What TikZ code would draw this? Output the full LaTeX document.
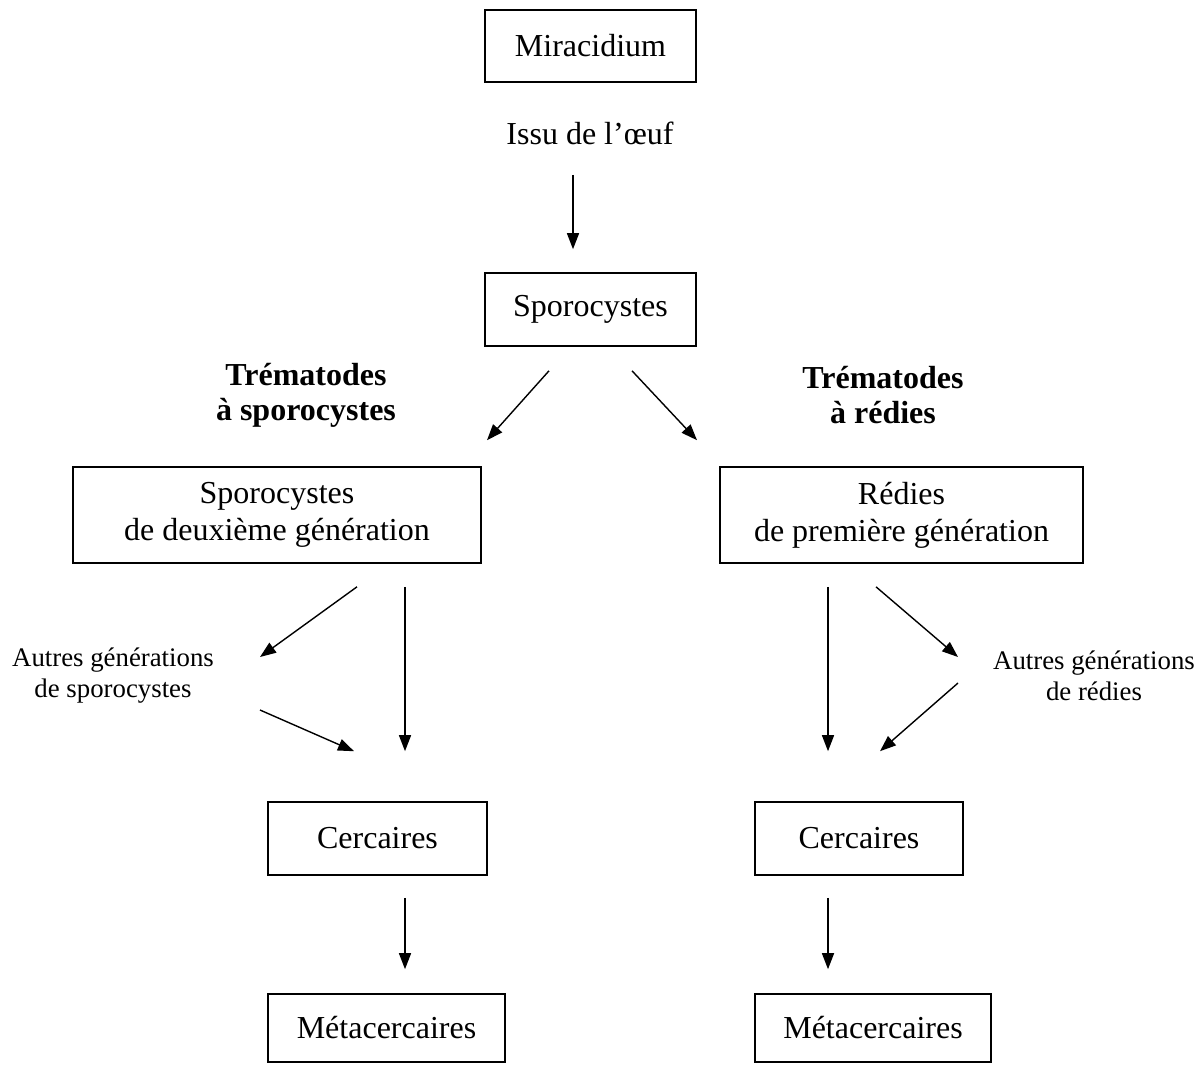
\documentclass[tikz,border=0pt]{standalone}
\usepackage{fontspec}
\setmainfont{Liberation Serif}
\usetikzlibrary{arrows.meta,calc}

\begin{document}
\begin{tikzpicture}[x=0.5pt,y=-0.5pt,
  boite/.style={draw, line width=0.8pt, align=center, inner sep=0pt, font=\fontsize{16}{18.5}\selectfont},
  texte/.style={align=center, inner sep=0pt, font=\fontsize{16}{18.5}\selectfont},
  titre/.style={align=center, inner sep=0pt, font=\fontsize{16}{17.5}\selectfont\bfseries},
  petit/.style={align=center, inner sep=0pt, font=\fontsize{13.4}{15.5}\selectfont},
  fleche/.style={-{Triangle[length=8pt,width=6pt]}, line width=0.7pt}]
\useasboundingbox (0,0) rectangle (1203,1066);
% boites
\node[boite, minimum width=105.5pt, minimum height=36pt] (mira) at (590.5,46) {Miracidium};
\node[texte] (issu) at (590,133) {Issu de l’œuf};
\node[boite, minimum width=105.5pt, minimum height=36.5pt] (spo) at (590.5,309.5) {Sporocystes};
\node[titre] (trs) at (306,395) {Trématodes\\à sporocystes};
\node[titre] (trr) at (883,395) {Trématodes\\à rédies};
\node[boite, minimum width=204pt, minimum height=48pt] (spoB) at (277,515) {Sporocystes\\de deuxième génération};
\node[boite, minimum width=181.5pt, minimum height=48pt] (redA) at (901.5,515) {Rédies\\de première génération};
\node[petit] (autS) at (113,676) {Autres générations\\de sporocystes};
\node[petit] (autR) at (1094,676) {Autres générations\\de rédies};
\node[boite, minimum width=109.5pt, minimum height=36.5pt] (cerS) at (377.5,838.5) {Cercaires};
\node[boite, minimum width=104pt, minimum height=36.5pt] (cerR) at (859,838.5) {Cercaires};
\node[boite, minimum width=118.5pt, minimum height=34pt] (metS) at (386.5,1028) {Métacercaires};
\node[boite, minimum width=118pt, minimum height=34pt] (metR) at (873,1028) {Métacercaires};
% extremites des fleches
\coordinate (i1) at ($(issu.south)+(-17,30)$);
\coordinate (i2) at ($(spo.north)+(-17.5,-23)$);
\coordinate (s1) at ($(spo.south)+(-41.5,24)$);
\coordinate (s2) at ($(spoB.north)+(210,-26)$);
\coordinate (s3) at ($(spo.south)+(41.5,24)$);
\coordinate (s4) at ($(redA.north)+(-204.5,-26)$);
\coordinate (g1) at ($(spoB.south)+(80,23)$);
\coordinate (g2) at ($(autS)+(147,-19)$);
\coordinate (g3) at ($(spoB.south)+(128,23)$);
\coordinate (g4) at ($(cerS.north)+(27.5,-50)$);
\coordinate (g5) at ($(autS)+(147,34)$);
\coordinate (g6) at ($(cerS.north)+(-23.5,-50)$);
\coordinate (d1) at ($(redA.south)+(-73.5,23)$);
\coordinate (d2) at ($(cerR.north)+(-31,-50)$);
\coordinate (d3) at ($(redA.south)+(-25.5,23)$);
\coordinate (d4) at ($(autR)+(-136,-19)$);
\coordinate (d5) at ($(autR)+(-136,7)$);
\coordinate (d6) at ($(cerR.north)+(21,-50)$);
\coordinate (c1) at ($(cerS.south)+(27.5,22)$);
\coordinate (c2) at ($(metS.north)+(18.5,-24)$);
\coordinate (c3) at ($(cerR.south)+(-31,22)$);
\coordinate (c4) at ($(metR.north)+(-45,-24)$);
% fleches
\draw[fleche] (i1) -- (i2);
\draw[fleche] (s1) -- (s2);
\draw[fleche] (s3) -- (s4);
\draw[fleche] (g1) -- (g2);
\draw[fleche] (g3) -- (g4);
\draw[fleche] (g5) -- (g6);
\draw[fleche] (d1) -- (d2);
\draw[fleche] (d3) -- (d4);
\draw[fleche] (d5) -- (d6);
\draw[fleche] (c1) -- (c2);
\draw[fleche] (c3) -- (c4);
\end{tikzpicture}
\end{document}
